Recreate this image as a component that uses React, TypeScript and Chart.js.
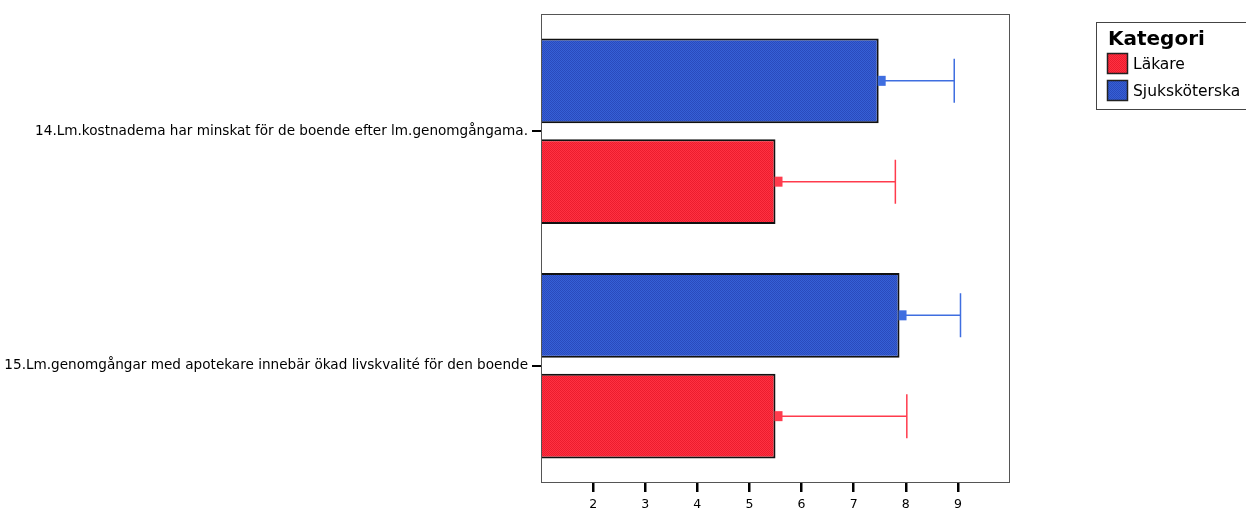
import React, { useEffect, useRef } from "react";
import { Chart, registerables } from "chart.js";

Chart.register(...registerables);

const categories = [
  "14.Lm.kostnadema har minskat för de boende efter lm.genomgångama.",
  "15.Lm.genomgångar med apotekare innebär ökad livskvalité för den boende",
];
const legendTitle = "Kategori";
const seriesNames = ["Läkare", "Sjuksköterska"];
const lakareMeans = [5.5, 5.5];
const lakareUpper = [7.8, 8.02];
const sjukMeans = [7.48, 7.88];
const sjukUpper = [8.93, 9.05];
const xTickValues = [2, 3, 4, 5, 6, 7, 8, 9];
const xMin = 1;
const xMax = 10;

const BLUE_ERR = "#3f6ee0";
const RED_ERR = "#ff3b4d";

function makePattern(c1: string, c2: string): CanvasPattern | string {
  const pc = document.createElement("canvas");
  pc.width = 2;
  pc.height = 2;
  const pctx = pc.getContext("2d");
  if (!pctx) return c1;
  pctx.fillStyle = c1;
  pctx.fillRect(0, 0, 2, 2);
  pctx.fillStyle = c2;
  pctx.fillRect(0, 0, 1, 1);
  pctx.fillRect(1, 1, 1, 1);
  const p = pctx.createPattern(pc, "repeat");
  return p || c1;
}

const errorBarPlugin = {
  id: "errorBars",
  afterDatasetsDraw(chart: any) {
    const ctx = chart.ctx;
    const xs = chart.scales.x;
    chart.data.datasets.forEach((ds: any, di: number) => {
      const meta = chart.getDatasetMeta(di);
      meta.data.forEach((bar: any, i: number) => {
        const x0 = bar.x;
        const y = bar.y;
        const x1 = xs.getPixelForValue(ds.upper[i]);
        ctx.save();
        ctx.strokeStyle = ds.errColor;
        ctx.fillStyle = ds.errColor;
        ctx.lineWidth = 1.5;
        ctx.beginPath();
        ctx.moveTo(x0, y);
        ctx.lineTo(x1, y);
        ctx.moveTo(x1, y - 22);
        ctx.lineTo(x1, y + 22);
        ctx.stroke();
        ctx.fillRect(x0 - 1, y - 5, 8, 10);
        ctx.restore();
      });
    });
  },
};

const framePlugin = {
  id: "frameLegend",
  afterDraw(chart: any) {
    const ctx = chart.ctx;
    const a = chart.chartArea;
    ctx.save();
    ctx.strokeStyle = "#555";
    ctx.lineWidth = 1;
    ctx.strokeRect(a.left + 0.5, a.top + 0.5, a.right - a.left - 1, a.bottom - a.top - 1);

    // legend
    ctx.strokeStyle = "#444";
    ctx.strokeRect(1096.5, 22.5, 160, 87);
    ctx.fillStyle = "#000";
    ctx.font = "bold 20px 'DejaVu Sans'";
    ctx.textBaseline = "alphabetic";
    ctx.textAlign = "left";
    ctx.fillText(legendTitle, 1108, 45);
    const swatches = [
      { name: seriesNames[0], fill: chart.data.datasets[1].backgroundColor, y: 53 },
      { name: seriesNames[1], fill: chart.data.datasets[0].backgroundColor, y: 80 },
    ];
    ctx.font = "15.5px 'DejaVu Sans'";
    ctx.textBaseline = "middle";
    swatches.forEach((s) => {
      ctx.fillStyle = s.fill;
      ctx.fillRect(1107, s.y, 21, 21);
      ctx.strokeStyle = "#222";
      ctx.lineWidth = 1.5;
      ctx.strokeRect(1107.5, s.y + 0.5, 20, 20);
      ctx.fillStyle = "#000";
      ctx.fillText(s.name, 1133, s.y + 12);
    });
    ctx.restore();
  },
};

export default function App() {
  const ref = useRef<HTMLCanvasElement | null>(null);

  useEffect(() => {
    if (!ref.current) return;
    const blueFill = makePattern("#3660d6", "#2a4abc");
    const redFill = makePattern("#ff3142", "#ec1c2e");
    const chart = new Chart(ref.current, {
      type: "bar",
      data: {
        labels: categories,
        datasets: [
          {
            label: seriesNames[1],
            data: sjukMeans,
            backgroundColor: blueFill as any,
            borderColor: "#111",
            borderWidth: 2,
            borderSkipped: false,
            barPercentage: 0.842,
            categoryPercentage: 0.86,
            upper: sjukUpper,
            errColor: BLUE_ERR,
          } as any,
          {
            label: seriesNames[0],
            data: lakareMeans,
            backgroundColor: redFill as any,
            borderColor: "#111",
            borderWidth: 2,
            borderSkipped: false,
            barPercentage: 0.842,
            categoryPercentage: 0.86,
            upper: lakareUpper,
            errColor: RED_ERR,
          } as any,
        ],
      },
      options: {
        indexAxis: "y",
        responsive: false,
        animation: false,
        layout: { padding: { top: 14, right: 236, bottom: 0, left: 0 } },
        plugins: {
          legend: { display: false },
          tooltip: { enabled: false },
        },
        scales: {
          x: {
            type: "linear",
            min: xMin,
            max: xMax,
            afterBuildTicks: (s: any) => {
              s.ticks = xTickValues.map((v) => ({ value: v }));
            },
            ticks: {
              color: "#000",
              font: { family: "'DejaVu Sans'", size: 12.5 },
              padding: 5,
              maxRotation: 0,
            },
            grid: {
              drawOnChartArea: false,
              drawTicks: true,
              tickLength: 9,
              lineWidth: 2.5,
              color: "#000",
            },
            border: { display: false },
            afterFit: (s: any) => {
              s.height = 29;
            },
          },
          y: {
            type: "category",
            ticks: {
              color: "#000",
              font: { family: "'DejaVu Sans'", size: 13.6 },
              padding: 4,
            },
            grid: {
              drawOnChartArea: false,
              drawTicks: true,
              tickLength: 9,
              lineWidth: 2,
              color: "#000",
              offset: false,
            },
            border: { display: false },
            afterFit: (s: any) => {
              s.width = 541;
            },
          },
        },
      } as any,
      plugins: [errorBarPlugin, framePlugin],
    });
    return () => chart.destroy();
  }, []);

  return (
    <div style={{ position: "fixed", left: 0, top: 0, width: 1246, height: 512, background: "#fff" }}>
      <canvas ref={ref} width={1246} height={512} style={{ display: "block" }} />
    </div>
  );
}
